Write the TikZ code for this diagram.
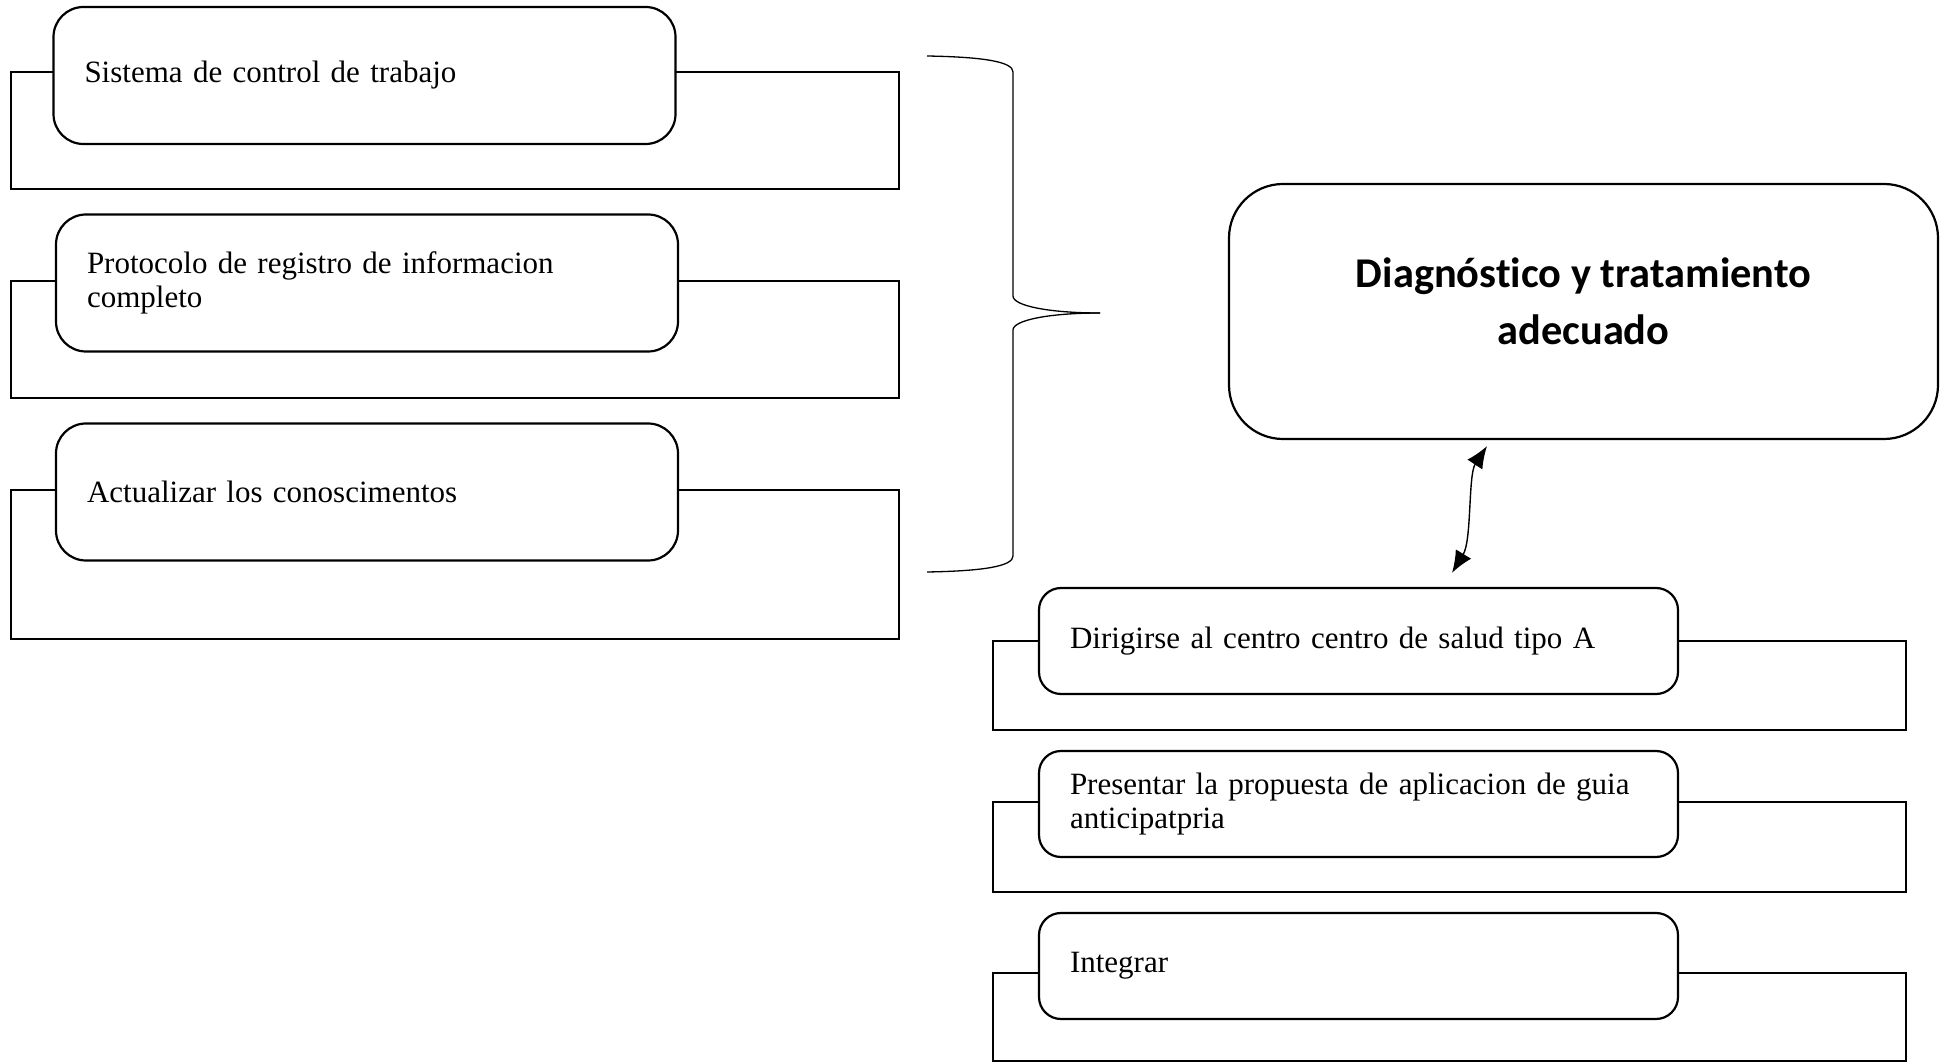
\documentclass[tikz,border=0pt]{standalone}
\usepackage{fontspec}
\setmainfont{Liberation Serif}
\newfontfamily\titlefont{Carlito}[Ligatures={NoCommon,NoContextual}]
\usetikzlibrary{arrows.meta,calc}

\begin{document}
\begin{tikzpicture}[x = 0.5pt, y = -0.5pt,
	backbox/.style = {line width = 1.1pt},
	stepbox/.style = {draw, fill = white, line width = 1.1pt, rounded corners = 15pt, minimum width = 311pt, minimum height = 68.5pt, inner xsep = 15.5pt, text width = 280pt, align = left, font = \fontsize{15.5}{16.8}\selectfont},
	actbox/.style = {stepbox, rounded corners = 11pt, minimum width = 319.5pt, minimum height = 53pt, text width = 288.5pt},
	titlebox/.style = {draw, line width = 1.1pt, rounded corners = 27pt, minimum width = 354.5pt, minimum height = 127.5pt, align = center, text depth = 10pt, font = \titlefont\bfseries\fontsize{21.2}{28.6}\selectfont},
	bracket/.style = {line width = 0.65pt}]
						\useasboundingbox (0,0) rectangle (1951,1063);
						% marcos de fondo
						\draw[backbox] (11,72) rectangle (899,189);
						\draw[backbox] (11,281) rectangle (899,398);
						\draw[backbox] (11,490) rectangle (899,639);
						\draw[backbox] (993,641) rectangle (1906,730);
						\draw[backbox] (993,802) rectangle (1906,892);
						\draw[backbox] (993,973) rectangle (1906,1061);
						% cajas
						\node[stepbox] (control) at (364.5,75.5) {Sistema de control de trabajo};
						\node[stepbox] (protocolo) at (367,283) {Protocolo de registro de informacion\\completo};
						\node[stepbox] (actualizar) at (367,492) {Actualizar los conoscimentos};
						\node[titlebox] (diag) at (1583.5,311.5) {Diagnóstico y tratamiento\\adecuado};
						\node[actbox] (dirigirse) at (1358.5,641) {Dirigirse al centro centro de salud tipo A};
						\node[actbox] (presentar) at (1358.5,804) {Presentar la propuesta de aplicacion de guia\\anticipatpria};
						\node[actbox] (integrar) at (1358.5,966) {Integrar};
						% llave
						\draw[bracket] (927,56) .. controls (985,57) and (1013,62) .. (1013,72) -- (1013,296) .. controls (1013,306) and (1050,313) .. (1100,313);
						\draw[bracket] (1100,313) .. controls (1050,313) and (1013,320) .. (1013,330) -- (1013,556) .. controls (1013,566) and (985,571) .. (927,572);
						% flecha
						\draw[line width = 0.7pt, {Latex[length = 11pt, width = 9pt]}-{Latex[length = 11pt, width = 9pt]}] ($(diag.south)+(-96.5,6)$) .. controls (1468,475) and (1472,540) .. ($(dirigirse.north)+(93.5,-14)$);
					\end{tikzpicture}
\end{document}
